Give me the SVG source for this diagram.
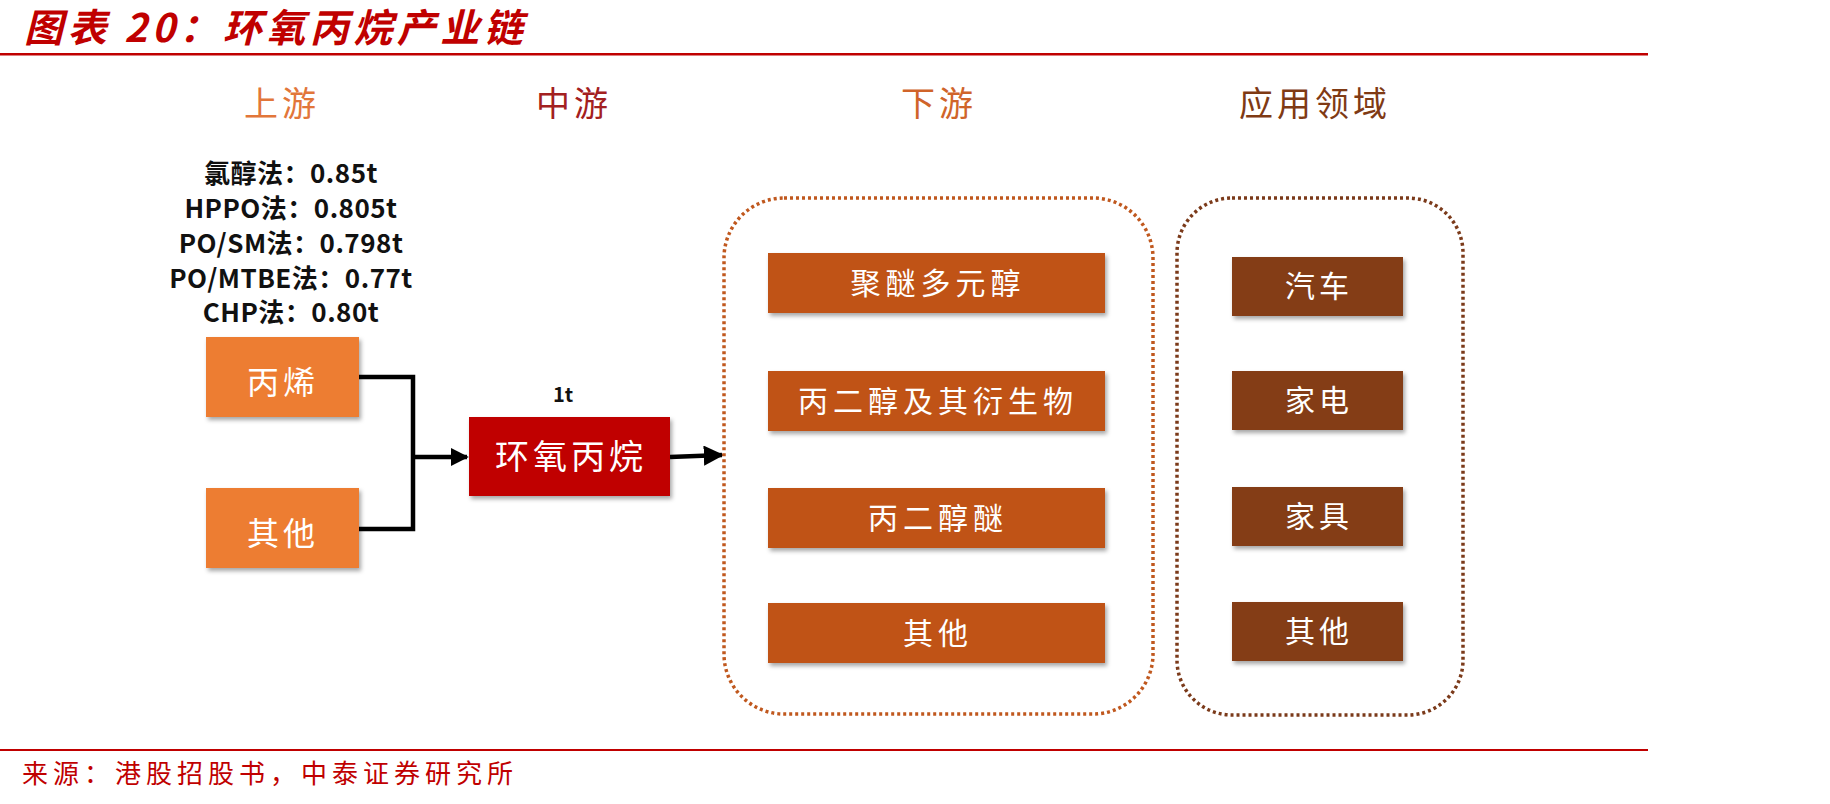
<svg xmlns="http://www.w3.org/2000/svg" width="1830" height="804" viewBox="0 0 1830 804">
<defs>
<filter id="sh" x="-10%" y="-20%" width="130%" height="150%">
<feDropShadow dx="2" dy="3" stdDeviation="2" flood-color="#000" flood-opacity="0.35"/>
</filter>
<marker id="ah" viewBox="0 0 10 10" refX="9" refY="5" markerWidth="4" markerHeight="4" orient="auto" markerUnits="strokeWidth">
<path d="M0,0 L10,5 L0,10 z" fill="#000"/>
</marker>
<marker id="ah2" viewBox="0 0 10 10" refX="9" refY="5" markerWidth="4.5" markerHeight="4.5" orient="auto" markerUnits="strokeWidth">
<path d="M0,0 L10,5 L0,10 z" fill="#000"/>
</marker>
</defs>
<style>
.cjk{font-family:"Noto Sans CJK SC","Noto Sans",sans-serif;}
.title{font-size:39px;font-weight:bold;font-style:italic;fill:#C00000;letter-spacing:4.5px;}
.hdr{font-size:34px;text-anchor:middle;letter-spacing:4px;}
.yield{font-size:26px;font-weight:bold;fill:#111;text-anchor:middle;letter-spacing:0.5px;}
.bt{fill:#fff;text-anchor:middle;}
.b1{fill:#ED7D31;filter:url(#sh);}
.b2{fill:#C00000;filter:url(#sh);}
.b3{fill:#C05218;filter:url(#sh);}
.b4{fill:#843C12;filter:url(#sh);}
.conn{fill:none;stroke:#000;stroke-width:4.5;}
.src{font-size:26px;fill:#C00000;letter-spacing:5px;}
</style>
<rect width="1830" height="804" fill="#fff"/>
<g id="title">
<text class="cjk title" x="24" y="42">图表 20：环氧丙烷产业链</text>
<rect x="0" y="53" width="1648" height="2.5" fill="#C00000"/>
</g>
<g id="headers">
<text class="cjk hdr" x="282" y="116" fill="#E2763A">上游</text>
<text class="cjk hdr" x="574" y="116" fill="#A32020">中游</text>
<text class="cjk hdr" x="939" y="116" fill="#D0642A">下游</text>
<text class="cjk hdr" x="1315" y="116" fill="#7F3A14">应用领域</text>
</g>
<g id="yields">
<text class="cjk yield" x="291" y="183">氯醇法：0.85t</text>
<text class="cjk yield" x="291" y="218">HPPO法：0.805t</text>
<text class="cjk yield" x="291" y="253">PO/SM法：0.798t</text>
<text class="cjk yield" x="291" y="288">PO/MTBE法：0.77t</text>
<text class="cjk yield" x="291" y="322">CHP法：0.80t</text>
</g>
<g id="connectors">
<polyline class="conn" points="359,377 413,377 413,529 359,529"/>
<line class="conn" x1="413" y1="457" x2="467" y2="457" marker-end="url(#ah)"/>
<line class="conn" x1="670" y1="457" x2="722" y2="455" stroke-width="3.5" marker-end="url(#ah2)"/>
</g>
<g id="n-propylene">
<rect class="b1" x="206" y="337" width="153" height="80"/>
<text class="cjk bt" x="283" y="394" font-size="32" letter-spacing="4">丙烯</text>
</g>
<g id="n-other-up">
<rect class="b1" x="206" y="488" width="153" height="80"/>
<text class="cjk bt" x="283" y="545" font-size="32" letter-spacing="4">其他</text>
</g>
<g id="n-po">
<text class="cjk" x="563" y="402" font-size="20" font-weight="bold" text-anchor="middle" fill="#111">1t</text>
<rect class="b2" x="469" y="417" width="201" height="79"/>
<text class="cjk bt" x="571" y="469" font-size="34" letter-spacing="4">环氧丙烷</text>
</g>
<g id="downstream">
<rect x="724" y="198" width="429" height="516" rx="60" ry="60" fill="none" stroke="#C0581E" stroke-width="3.5" stroke-dasharray="3 3"/>
</g>
<g id="n-polyether">
<rect class="b3" x="768" y="253" width="337" height="60"/>
<text class="cjk bt" x="938" y="294" font-size="30" letter-spacing="5">聚醚多元醇</text>
</g>
<g id="n-pg">
<rect class="b3" x="768" y="371" width="337" height="60"/>
<text class="cjk bt" x="938" y="412" font-size="30" letter-spacing="5">丙二醇及其衍生物</text>
</g>
<g id="n-pge">
<rect class="b3" x="768" y="488" width="337" height="60"/>
<text class="cjk bt" x="938" y="529" font-size="30" letter-spacing="5">丙二醇醚</text>
</g>
<g id="n-other-down">
<rect class="b3" x="768" y="603" width="337" height="60"/>
<text class="cjk bt" x="938" y="644" font-size="30" letter-spacing="5">其他</text>
</g>
<g id="applications">
<rect x="1177" y="198" width="286" height="517" rx="55" ry="55" fill="none" stroke="#7B3A1A" stroke-width="3.5" stroke-dasharray="3 3"/>
</g>
<g id="n-auto">
<rect class="b4" x="1232" y="257" width="171" height="59"/>
<text class="cjk bt" x="1319" y="297" font-size="30" letter-spacing="4">汽车</text>
</g>
<g id="n-appliance">
<rect class="b4" x="1232" y="371" width="171" height="59"/>
<text class="cjk bt" x="1319" y="411" font-size="30" letter-spacing="4">家电</text>
</g>
<g id="n-furniture">
<rect class="b4" x="1232" y="487" width="171" height="59"/>
<text class="cjk bt" x="1319" y="527" font-size="30" letter-spacing="4">家具</text>
</g>
<g id="n-other-app">
<rect class="b4" x="1232" y="602" width="171" height="59"/>
<text class="cjk bt" x="1319" y="642" font-size="30" letter-spacing="4">其他</text>
</g>
<g id="footer">
<rect x="0" y="749" width="1648" height="2" fill="#C00000"/>
<text class="cjk src" x="22" y="783">来源：港股招股书，中泰证券研究所</text>
</g>
</svg>
